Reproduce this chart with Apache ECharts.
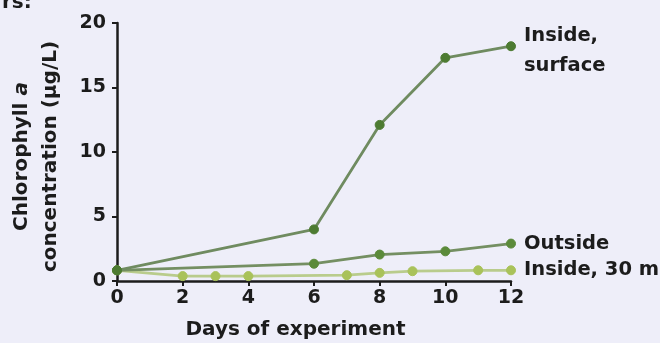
<!DOCTYPE html>
<html>
<head>
<meta charset="utf-8">
<script src="https://cdn.jsdelivr.net/npm/echarts@6/dist/echarts.min.js"></script>
<style>
  html, body { margin: 0; padding: 0; background: #eeeef9; }
  #chart { width: 660px; height: 343px; }
</style>
</head>
<body>
<div id="chart"></div>
<script>
// days sampled for each treatment
const surfaceDays = [0, 6, 8, 10, 12]
const surfaceValues = [0.83, 4.0, 12.1, 17.3, 18.2]

const outsideDays = [0, 6, 8, 10, 12]
const outsideValues = [0.83, 1.34, 2.05, 2.3, 2.9]

const deepDays = [0, 2, 3, 4, 7, 8, 9, 11, 12]
const deepValues = [0.83, 0.38, 0.38, 0.38, 0.45, 0.63, 0.76, 0.83, 0.83]

const seriesNames = ['Inside,\nsurface', 'Outside', 'Inside, 30 m']
const xTicks = [0, 2, 4, 6, 8, 10, 12]
const yTicks = [0, 5, 10, 15, 20]

const FONT = '"DejaVu Sans", sans-serif'
const INK = '#1c1c1c'

// turn day/value arrays into points; last point carries the series label
const toPoints = (days, values, name, labelShift) =>
  days.map((d, i) => {
    const item = { value: [d, values[i]] }
    if (i === days.length - 1) {
      item.label = {
        show: true,
        position: 'right',
        distance: 8,
        offset: [0, labelShift],
        formatter: name,
        fontFamily: FONT,
        fontWeight: 'bold',
        fontSize: 19.5,
        lineHeight: 30,
        color: INK,
        align: 'left',
      }
    }
    return item
  })

const chart = echarts.init(document.getElementById('chart'), undefined, { renderer: 'canvas' })

const makeSeries = (days, values, name, lineColor, dotColor, z, labelShift) => ({
  type: 'line',
  name: name,
  data: toPoints(days, values, name, labelShift),
  symbol: 'circle',
  symbolSize: 9,
  z: z,
  lineStyle: { color: lineColor, width: 2.8 },
  itemStyle: { color: dotColor, borderColor: dotColor },
  emphasis: { disabled: true },
})

chart.setOption({
  animation: false,
  backgroundColor: '#eeeef9',
  title: {
    text: 'rs:',
    left: -3,
    top: -12,
    textStyle: { fontFamily: FONT, fontWeight: 'bold', fontSize: 20, color: INK },
  },
  grid: { left: 117, right: 149, top: 23, bottom: 62, outerBoundsMode: 'none', containLabel: false },
  xAxis: {
    type: 'value',
    min: 0,
    max: 12,
    interval: 2,
    name: 'Days of experiment',
    nameLocation: 'middle',
    nameGap: 39,
    nameTextStyle: {
      fontFamily: FONT, fontWeight: 'bold', fontSize: 20, color: INK,
      padding: [0, 37, 0, 0],
    },
    axisLine: { onZero: false, lineStyle: { color: INK, width: 2.5 } },
    axisTick: { show: true, length: 5, lineStyle: { color: INK, width: 2 } },
    axisLabel: {
      fontFamily: FONT, fontWeight: 'bold', fontSize: 19, color: INK, margin: 8,
      formatter: (v) => (xTicks.includes(v) ? String(v) : ''),
    },
    splitLine: { show: false },
  },
  yAxis: {
    type: 'value',
    min: 0,
    max: 20,
    interval: 5,
    name: '{b|Chlorophyll }{i|a}\n{b|concentration (µg/L)}',
    nameLocation: 'middle',
    nameGap: 52,
    nameRotate: 90,
    nameTextStyle: {
      color: INK,
      lineHeight: 29,
      padding: [0, 9, 0, 0],
      rich: {
        b: { fontFamily: FONT, fontWeight: 'bold', fontSize: 20, color: INK, lineHeight: 29 },
        i: { fontFamily: FONT, fontWeight: 'bold', fontStyle: 'italic', fontSize: 20, color: INK, lineHeight: 29 },
      },
    },
    axisLine: { show: true, lineStyle: { color: INK, width: 2.5 } },
    axisTick: { show: true, length: 5, lineStyle: { color: INK, width: 2 } },
    axisLabel: {
      fontFamily: FONT, fontWeight: 'bold', fontSize: 19, color: INK, margin: 11,
      formatter: (v) => (yTicks.includes(v) ? String(v) : ''),
    },
    splitLine: { show: false },
  },
  series: [
    makeSeries(deepDays, deepValues, seriesNames[2], '#b9cc8c', '#a9c25a', 3, 0),
    makeSeries(outsideDays, outsideValues, seriesNames[1], '#748f62', '#5b8a3a', 4, 0),
    makeSeries(surfaceDays, surfaceValues, seriesNames[0], '#6f8b60', '#4d7b32', 5, 5),
  ],
})
</script>
</body>
</html>
